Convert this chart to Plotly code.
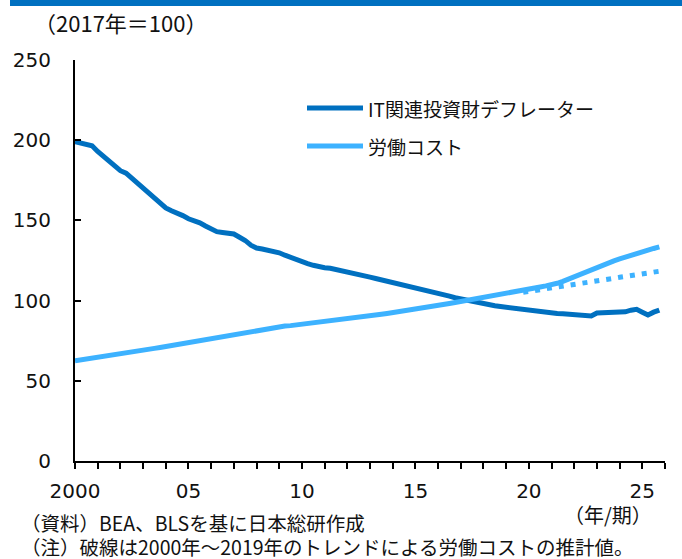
import plotly.graph_objects as go

W, H = 682, 559
ML, MR, MT, MB = 75, 17, 60, 98

years = list(range(2000, 2026))
quarters = [y + q / 4 for y in years for q in range(4)]

it_deflator = [
    199, 198.3, 197.7, 196.5,
    193, 190, 187, 184,
    181, 179.5, 176.5, 173.5,
    170.5, 167.5, 164, 160.5,
    157.8, 156, 154.8, 153,
    151, 150, 148.5, 146.5,
    144.5, 143, 142.5, 142,
    141.5, 139.5, 137.5, 134.5,
    132.8, 132.2, 131.5, 130.8,
    129.8, 128.3, 126.8, 125.8,
    124.5, 123, 122, 121,
    120.5, 120.2, 119.3, 118.3,
    117.5, 116.8, 116.2, 115.5,
    114.6, 113.8, 113, 112.2,
    111.3, 110.5, 109.7, 109,
    108.2, 107.5, 106.8, 105.8,
    104.8, 103.8, 102.8, 101.8,
    101, 100.2, 99.5, 98.9,
    98.2, 97.5, 96.8, 96.3,
    95.8, 95.5, 95.2, 94.3,
    93.8, 93.5, 93.2, 93,
    92.3, 92, 91.8, 91.6,
    91.5, 91.3, 91.2, 90.4,
    92.3, 92.4, 92.3, 92.2,
    92.3, 93, 94, 94.6,
    92.8, 91, 92.8, 94.1,
]

labor_cost = [
    62.5, 63, 63.5, 64,
    64.5, 65.2, 65.8, 66.3,
    66.8, 67.3, 67.8, 68.5,
    69, 69.6, 70.2, 70.8,
    71.4, 72, 72.6, 73.2,
    73.8, 74.4, 75, 75.6,
    76.2, 76.8, 77.4, 78,
    78.6, 79.3, 80, 80.8,
    81.5, 82.2, 82.9, 83.4,
    83.8, 84.1, 84.4, 84.8,
    85.2, 85.6, 86.1, 86.6,
    87, 87.5, 88, 88.4,
    88.8, 89.2, 89.7, 90.2,
    90.6, 91.1, 91.5, 92,
    92.5, 93, 93.5, 94,
    94.6, 95.2, 95.8, 96.4,
    97, 97.6, 98.2, 98.8,
    99.4, 100, 100.6, 101.2,
    101.8, 102.4, 103, 103.6,
    104.2, 104.8, 105.5, 106.2,
    107, 107.7, 108.5, 109.2,
    109.8, 110.8, 112, 113.5,
    115, 116.5, 118, 119.5,
    121, 122.3, 123.5, 124.8,
    126, 127.2, 128.3, 129.4,
    130.5, 131.5, 132.5, 133.5,
]

trend_x = quarters[79:]
trend_values = [
    105.2,
    105.7, 106.3, 106.8, 107.4,
    107.9, 108.5, 109.0, 109.6,
    110.1, 110.6, 111.2, 111.7,
    112.3, 112.8, 113.4, 113.9,
    114.5, 115.0, 115.5, 116.1,
    116.6, 117.2, 117.7, 118.3,
]

tick_years = list(range(2000, 2027))
tick_text = [("2000" if y == 2000 else f"{y % 100:02d}") if y % 5 == 0 else "" for y in tick_years]

series_names = ["IT関連投資財デフレーター", "労働コスト"]
DARK = "#0070C0"
LIGHT = "#3DB2FF"
JP = "Noto Sans CJK JP"


def px_x(px):
    return (px - ML) / (W - ML - MR)


def px_y(py):
    return (H - MB - py) / (H - MT - MB)


fig = go.Figure()
fig.add_trace(go.Scatter(x=quarters, y=it_deflator, mode="lines",
                         line=dict(color=DARK, width=5), name=series_names[0],
                         showlegend=False))
fig.add_trace(go.Scatter(x=trend_x, y=trend_values, mode="lines",
                         line=dict(color=LIGHT, width=5, dash="5px,7px"),
                         name="trend", showlegend=False))
fig.add_trace(go.Scatter(x=quarters, y=labor_cost, mode="lines",
                         line=dict(color=LIGHT, width=5), name=series_names[1],
                         showlegend=False))

shapes = [
    dict(type="rect", xref="paper", yref="paper", x0=px_x(10), x1=px_x(682),
         y0=px_y(6), y1=px_y(0), fillcolor=DARK, line=dict(width=0), layer="above"),
    dict(type="line", xref="paper", yref="paper", x0=px_x(307), x1=px_x(363),
         y0=px_y(108), y1=px_y(108), line=dict(color=DARK, width=5)),
    dict(type="line", xref="paper", yref="paper", x0=px_x(307), x1=px_x(363),
         y0=px_y(146), y1=px_y(146), line=dict(color=LIGHT, width=5)),
]

annotations = [
    dict(text="（2017年＝100）", x=px_x(32), y=px_y(22), size=22),
    dict(text=series_names[0], x=px_x(366), y=px_y(108), size=19),
    dict(text=series_names[1], x=px_x(366), y=px_y(146), size=19),
    dict(text="（年/期）", x=px_x(562), y=px_y(514), size=20),
    dict(text="（資料）BEA、BLSを基に日本総研作成", x=px_x(19), y=px_y(522), size=19.5),
    dict(text="（注）破線は2000年～2019年のトレンドによる労働コストの推計値。", x=px_x(19), y=px_y(546), size=19.5),
]
for a in annotations:
    sz = a.pop("size")
    a.update(xref="paper", yref="paper", showarrow=False, xanchor="left", yanchor="middle",
             font=dict(family=JP, size=sz, color="#111111"))

fig.update_layout(
    width=W, height=H,
    margin=dict(l=ML, r=MR, t=MT, b=MB, pad=0),
    paper_bgcolor="white", plot_bgcolor="white",
    font=dict(family="DejaVu Sans", size=20, color="#111111"),
    shapes=shapes, annotations=annotations,
    xaxis=dict(range=[2000, 2026], tickmode="array", tickvals=tick_years, ticktext=tick_text,
               showline=True, linecolor="black", linewidth=2, ticks="outside",
               ticklen=6, tickwidth=2, tickcolor="black", showgrid=False, zeroline=False,
               ticklabelstandoff=5, fixedrange=True),
    yaxis=dict(range=[0, 250], tickmode="array", tickvals=[0, 50, 100, 150, 200, 250],
               showline=True, linecolor="black", linewidth=2, ticks="inside",
               ticklen=6, tickwidth=2, tickcolor="black", showgrid=False, zeroline=False,
               ticklabelstandoff=18, fixedrange=True),
)

fig.write_html("out.html", config={"displayModeBar": False},
               post_script="document.body.style.margin='0';")
